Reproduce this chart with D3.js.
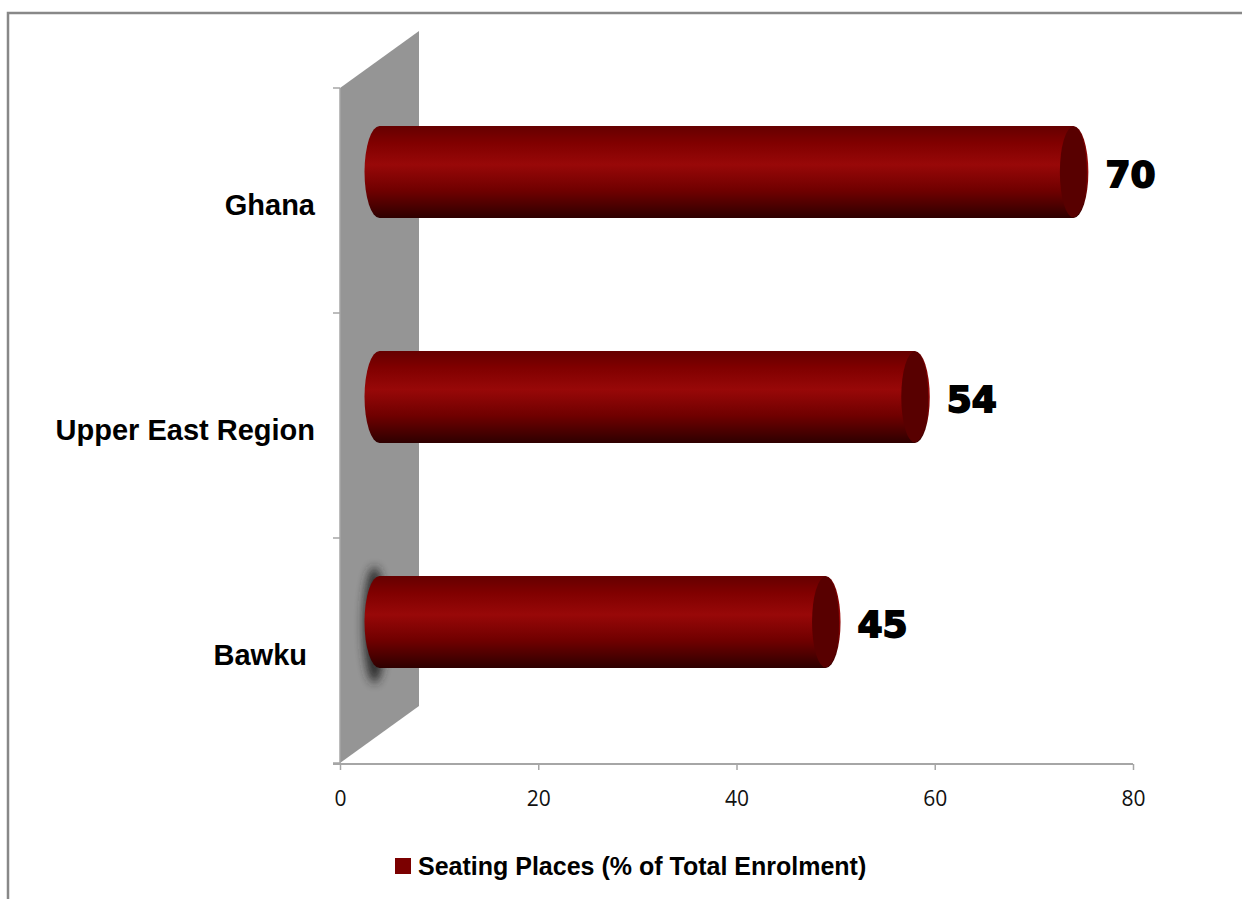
<!DOCTYPE html>
<html>
<head>
<meta charset="utf-8">
<script src="https://cdnjs.cloudflare.com/ajax/libs/d3/7.8.5/d3.min.js"></script>
<style>
  body { margin: 0; background: #fff; }
</style>
</head>
<body>
<script>
var categories = ['Ghana', 'Upper East Region', 'Bawku'];
var values = [70, 54, 45];
var xTicks = [0, 20, 40, 60, 80];
var seriesName = 'Seating Places (% of Total Enrolment)';

var w = 1242;
var h = 899;

// 3d depth of the back wall, bars sit half way in
var depthX = 79;
var depthY = -57;
var barX = depthX / 2;
var barY = depthY / 2;

var svg = d3.select('body')
  .append('svg')
  .attr('width', w)
  .attr('height', h);

var defs = svg.append('defs');

var grad = defs.append('linearGradient')
  .attr('id', 'cyl')
  .attr('x1', 0).attr('y1', 0)
  .attr('x2', 0).attr('y2', 1);
grad.append('stop').attr('offset', '0%').attr('stop-color', '#650000');
grad.append('stop').attr('offset', '18%').attr('stop-color', '#800000');
grad.append('stop').attr('offset', '42%').attr('stop-color', '#980808');
grad.append('stop').attr('offset', '70%').attr('stop-color', '#700000');
grad.append('stop').attr('offset', '100%').attr('stop-color', '#2e0000');

defs.append('filter')
  .attr('id', 'blur')
  .attr('x', '-100%').attr('y', '-100%')
  .attr('width', '300%').attr('height', '300%')
  .append('feGaussianBlur')
  .attr('stdDeviation', 5);

/* ===== frame ===== */

svg.append('path')
  .attr('d', 'M8,' + h + ' L8,13 L' + w + ',13')
  .attr('fill', 'none')
  .attr('stroke', '#888')
  .attr('stroke-width', 2.5);

/* ===== scales ===== */

var xScale = d3.scaleLinear()
  .domain([0, 80])
  .range([340, 1133]);

var yScale = d3.scaleBand()
  .domain(categories)
  .range([88, 763])
  .padding(0);

var x0 = xScale(0);
var yTop = yScale.range()[0];
var yBot = yScale.range()[1];

/* ===== back wall ===== */

svg.append('path')
  .attr('d', 'M' + x0 + ',' + yTop +
    ' L' + (x0 + depthX) + ',' + (yTop + depthY) +
    ' L' + (x0 + depthX) + ',' + (yBot + depthY) +
    ' L' + x0 + ',' + yBot + 'Z')
  .attr('fill', '#959595');

/* ===== axes ===== */

var xAxis = d3.axisBottom(xScale)
  .tickValues(xTicks)
  .tickSize(6)
  .tickPadding(21);

var gx = svg.append('g')
  .attr('transform', 'translate(0,' + (yBot + 1) + ')')
  .call(xAxis);
gx.select('.domain').attr('stroke', '#a6a6a6').attr('stroke-width', 2)
  .attr('d', 'M' + (x0 - 7) + ',0H' + xScale(80));
gx.selectAll('.tick line').attr('stroke', '#a6a6a6').attr('stroke-width', 1.5);
gx.selectAll('.tick text')
  .attr('font-family', 'Open Sans, sans-serif')
  .attr('font-size', 21)
  .attr('fill', '#111');

var yTickPos = categories.map(function(c) { return yScale(c); }).concat([yBot]);
svg.selectAll('.ytick')
  .data(yTickPos)
  .enter()
  .append('line')
  .attr('class', 'ytick')
  .attr('x1', x0 - 7)
  .attr('x2', x0)
  .attr('y1', function(d) { return d; })
  .attr('y2', function(d) { return d; })
  .attr('stroke', '#a6a6a6')
  .attr('stroke-width', 1.5);

svg.append('line')
  .attr('x1', x0).attr('x2', x0)
  .attr('y1', yTop).attr('y2', yBot)
  .attr('stroke', '#a6a6a6')
  .attr('stroke-width', 1.5);

svg.selectAll('.cat')
  .data(categories)
  .enter()
  .append('text')
  .attr('class', 'cat')
  .attr('x', function(d, i) { return i === categories.length - 1 ? 307 : 315; })
  .attr('y', function(d) { return yScale(d) + yScale.bandwidth() / 2 + 4; })
  .attr('text-anchor', 'end')
  .attr('dominant-baseline', 'central')
  .attr('font-family', 'Liberation Sans, Arial, sans-serif')
  .attr('font-weight', 'bold')
  .attr('font-size', 29)
  .attr('fill', '#000')
  .text(function(d) { return d; });

/* ===== cylinders ===== */

var rx = 15;
var ry = 46;

var bars = categories.map(function(c, i) {
  return {
    cat: c,
    value: values[i],
    xs: x0 + barX,
    xe: xScale(values[i]) + barX,
    cy: yScale(c) + yScale.bandwidth() / 2 + barY
  };
});

// shadow on the wall behind the lowest bar
var last = bars[bars.length - 1];
svg.append('ellipse')
  .attr('cx', last.xs - 5)
  .attr('cy', last.cy + 3)
  .attr('rx', 11)
  .attr('ry', ry + 12)
  .attr('fill', '#262626')
  .attr('opacity', 0.95)
  .attr('filter', 'url(#blur)');

var g = svg.selectAll('.bar')
  .data(bars)
  .enter()
  .append('g')
  .attr('class', 'bar');

g.append('path')
  .attr('d', function(d) {
    return 'M' + d.xs + ',' + (d.cy - ry) +
      ' L' + d.xe + ',' + (d.cy - ry) +
      ' A' + rx + ',' + ry + ' 0 0 1 ' + d.xe + ',' + (d.cy + ry) +
      ' L' + d.xs + ',' + (d.cy + ry) +
      ' A' + rx + ',' + ry + ' 0 0 1 ' + d.xs + ',' + (d.cy - ry) + 'Z';
  })
  .attr('fill', 'url(#cyl)');

g.append('ellipse')
  .attr('cx', function(d) { return d.xe; })
  .attr('cy', function(d) { return d.cy; })
  .attr('rx', rx - 1.5)
  .attr('ry', ry - 0.5)
  .attr('fill', '#580000');

g.append('text')
  .attr('x', function(d) { return d.xe + rx + 17; })
  .attr('y', function(d) { return d.cy + 2; })
  .attr('dominant-baseline', 'central')
  .attr('font-family', 'DejaVu Sans, sans-serif')
  .attr('font-weight', 'bold')
  .attr('font-size', 36)
  .attr('fill', '#000')
  .attr('stroke', '#000')
  .attr('stroke-width', 1.8)
  .text(function(d) { return d.value; });

/* ===== legend ===== */

var legend = svg.append('g').attr('transform', 'translate(395,858)');
legend.append('rect')
  .attr('width', 16)
  .attr('height', 16)
  .attr('fill', '#7b0000');
legend.append('text')
  .attr('x', 23)
  .attr('y', 17)
  .attr('font-family', 'Liberation Sans, Arial, sans-serif')
  .attr('font-weight', 'bold')
  .attr('font-size', 25)
  .attr('fill', '#000')
  .text(seriesName);
</script>
</body>
</html>
